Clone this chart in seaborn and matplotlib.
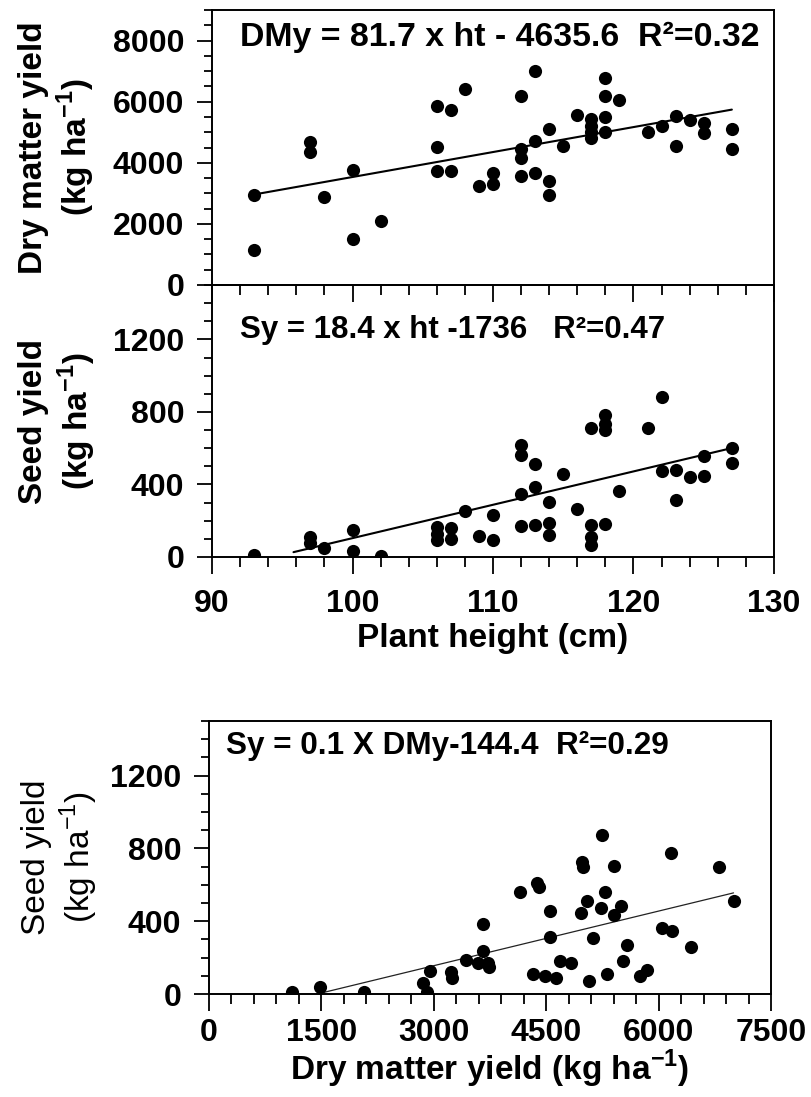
import numpy as np
import pandas as pd
import matplotlib
matplotlib.use('Agg')
import matplotlib.pyplot as plt
from matplotlib.ticker import MultipleLocator
import seaborn as sns

# Top panel: plant height vs dry matter yield
ht_dm = [93, 93, 97, 97, 98, 100, 100, 102, 106, 106, 106, 107, 107, 108, 109, 110, 110,
         112, 112, 112, 112, 113, 113, 113, 114, 114, 114, 115, 116, 117, 117, 117, 117,
         118, 118, 118, 118, 119, 121, 122, 123, 123, 124, 125, 125, 127, 127]
dmy = [2950, 1150, 4690, 4360, 2870, 3780, 1510, 2080, 5850, 4510, 3720, 5740, 3720, 6430,
       3230, 3670, 3290, 6190, 4440, 4160, 3560, 6990, 4710, 3650, 5110, 3420, 2940, 4550,
       5550, 5420, 5200, 5020, 4820, 6790, 6190, 5510, 5010, 6050, 5010, 5200, 5530, 4550,
       5410, 5310, 4980, 5090, 4440]

# Middle panel: plant height vs seed yield
ht_sy = [93, 97, 97, 98, 100, 100, 102, 106, 106, 106, 107, 107, 108, 109, 110, 110,
         112, 112, 112, 112, 113, 113, 113, 114, 114, 114, 115, 116, 117, 117, 117, 117,
         118, 118, 118, 118, 119, 121, 122, 122, 123, 123, 124, 125, 125, 127, 127]
sy_ht = [10, 111, 79, 52, 149, 33, 6, 166, 129, 94, 162, 98, 255, 114, 231, 92,
         620, 565, 347, 172, 513, 387, 177, 306, 186, 122, 458, 264, 710, 175, 111, 65,
         784, 734, 701, 181, 362, 710, 882, 476, 482, 314, 439, 559, 445, 600, 517]

# Bottom panel: dry matter yield vs seed yield
dm_sy = [1106, 1487, 2071, 2853, 2905, 2947, 3224, 3239, 3427, 3584, 3652, 3657, 3719,
         3740, 4157, 4382, 4408, 4330, 4486, 4554, 4554, 4632, 4679, 4836, 4982, 4997,
         4971, 5044, 5070, 5123, 5243, 5232, 5279, 5310, 5399, 5409, 5493, 5529, 5581,
         5748, 5842, 6041, 6182, 6171, 6432, 6808, 7006]
sy_dm = [11, 38, 11, 60, 9, 124, 119, 88, 188, 170, 386, 234, 170, 148, 559, 612, 590,
         112, 100, 457, 311, 86, 179, 170, 724, 700, 444, 512, 69, 307, 874, 475, 558,
         112, 435, 706, 481, 179, 267, 97, 130, 362, 344, 773, 256, 700, 512]

# regression lines (slope, intercept, x range drawn)
fit_dm = (81.7, -4635.6, (93, 127))
fit_sy = (18.4, -1736, (95.8, 127))
fit_sd = (0.1, -144.4, (1500, 7000))

labels_eq = ['DMy = 81.7 x ht - 4635.6  R\u00b2=0.32',
             'Sy = 18.4 x ht -1736   R\u00b2=0.47',
             'Sy = 0.1 X DMy-144.4  R\u00b2=0.29']

sns.set_style('ticks')
plt.rcParams['font.family'] = ['Liberation Sans', 'DejaVu Sans']
plt.rcParams['mathtext.fontset'] = 'custom'
plt.rcParams['mathtext.rm'] = 'Liberation Sans'
plt.rcParams['mathtext.bf'] = 'Liberation Sans:bold'
plt.rcParams['axes.linewidth'] = 1.4
for key in ['text.color', 'axes.labelcolor', 'xtick.color', 'ytick.color', 'axes.edgecolor']:
    plt.rcParams[key] = 'black'

fig = plt.figure(figsize=(8.12, 10.97), dpi=100)
W, H = 812, 1097


def box(l, t, r, b):
    return [l / W, 1 - b / H, (r - l) / W, (b - t) / H]


ax1 = fig.add_axes(box(212, 10, 774, 285))
ax2 = fig.add_axes(box(212, 285, 774, 557))
ax3 = fig.add_axes(box(209, 721, 771, 994))

df1 = pd.DataFrame({'ht': ht_dm, 'dmy': dmy})
df2 = pd.DataFrame({'ht': ht_sy, 'sy': sy_ht})
df3 = pd.DataFrame({'dmy': dm_sy, 'sy': sy_dm})

ms = 90
sns.scatterplot(data=df1, x='ht', y='dmy', ax=ax1, color='black', s=ms, linewidth=0, zorder=3)
sns.scatterplot(data=df2, x='ht', y='sy', ax=ax2, color='black', s=ms, linewidth=0, zorder=3)
sns.scatterplot(data=df3, x='dmy', y='sy', ax=ax3, color='black', s=ms, linewidth=0, zorder=3)

for ax, (a, b, (x0, x1)), lw, col in [(ax1, fit_dm, 1.5, 'black'),
                                      (ax2, fit_sy, 1.5, 'black'),
                                      (ax3, fit_sd, 0.9, '#222222')]:
    xs = np.array([x0, x1])
    ax.plot(xs, a * xs + b, color=col, lw=lw, zorder=2)

TICK = 23
LAB = 24

for ax in (ax1, ax2, ax3):
    ax.set_facecolor('none')
    for sp in ax.spines.values():
        sp.set_visible(True)
        sp.set_color('black')
    ax.tick_params(axis='y', which='major', direction='out', length=11, width=1.3, pad=9)
    ax.tick_params(axis='y', which='minor', direction='out', length=6, width=1.3)
    ax.tick_params(axis='x', which='major', direction='out', length=12, width=1.3, pad=11)
    ax.tick_params(axis='x', which='minor', direction='out', length=7, width=1.3)
    ax.tick_params(top=False, right=False, colors='black')

ax3.tick_params(axis='x', which='major', pad=5)

ax1.set_xlim(90, 130)
ax1.set_ylim(0, 9000)
ax1.yaxis.set_major_locator(MultipleLocator(2000))
ax1.yaxis.set_minor_locator(MultipleLocator(500))
ax1.xaxis.set_major_locator(MultipleLocator(10))
ax1.xaxis.set_minor_locator(MultipleLocator(2))
ax1.set_xticklabels([])
ax1.set_xlabel('')
ax1.set_ylabel('Dry matter yield\n(kg ha$^{\\mathbf{-1}}$)', fontsize=LAB, fontweight='bold',
               labelpad=11, linespacing=1.2)

ax2.set_xlim(90, 130)
ax2.set_ylim(0, 1500)
ax2.yaxis.set_major_locator(MultipleLocator(400))
ax2.yaxis.set_minor_locator(MultipleLocator(100))
ax2.xaxis.set_major_locator(MultipleLocator(10))
ax2.xaxis.set_minor_locator(MultipleLocator(2))
ax2.set_xlabel('Plant height (cm)', fontsize=LAB, fontweight='bold', labelpad=3)
ax2.set_ylabel('Seed yield\n(kg ha$^{\\mathbf{-1}}$)', fontsize=LAB, fontweight='bold',
               labelpad=11, linespacing=1.2)

ax3.set_xlim(0, 7500)
ax3.set_ylim(0, 1500)
ax3.yaxis.set_major_locator(MultipleLocator(400))
ax3.yaxis.set_minor_locator(MultipleLocator(100))
ax3.xaxis.set_major_locator(MultipleLocator(1500))
ax3.xaxis.set_minor_locator(MultipleLocator(300))
ax3.set_xlabel('Dry matter yield (kg ha$^{\\mathbf{-1}}$)', fontsize=LAB, fontweight='bold', labelpad=0)
ax3.set_ylabel('Seed yield\n(kg ha$^{-1}$)', fontsize=LAB, labelpad=7, linespacing=1.2)

for ax in (ax1, ax2, ax3):
    for lab in ax.get_xticklabels() + ax.get_yticklabels():
        lab.set_fontsize(TICK)
        lab.set_fontweight('bold')

ax1.text(0.05, 0.90, labels_eq[0], transform=ax1.transAxes, ha='left', va='center',
         fontsize=24.4, fontweight='bold')
ax2.text(0.05, 0.835, labels_eq[1], transform=ax2.transAxes, ha='left', va='center',
         fontsize=22.5, fontweight='bold')
ax3.text(0.03, 0.91, labels_eq[2], transform=ax3.transAxes, ha='left', va='center',
         fontsize=22.7, fontweight='bold')

fig.savefig('out.png', dpi=100)
